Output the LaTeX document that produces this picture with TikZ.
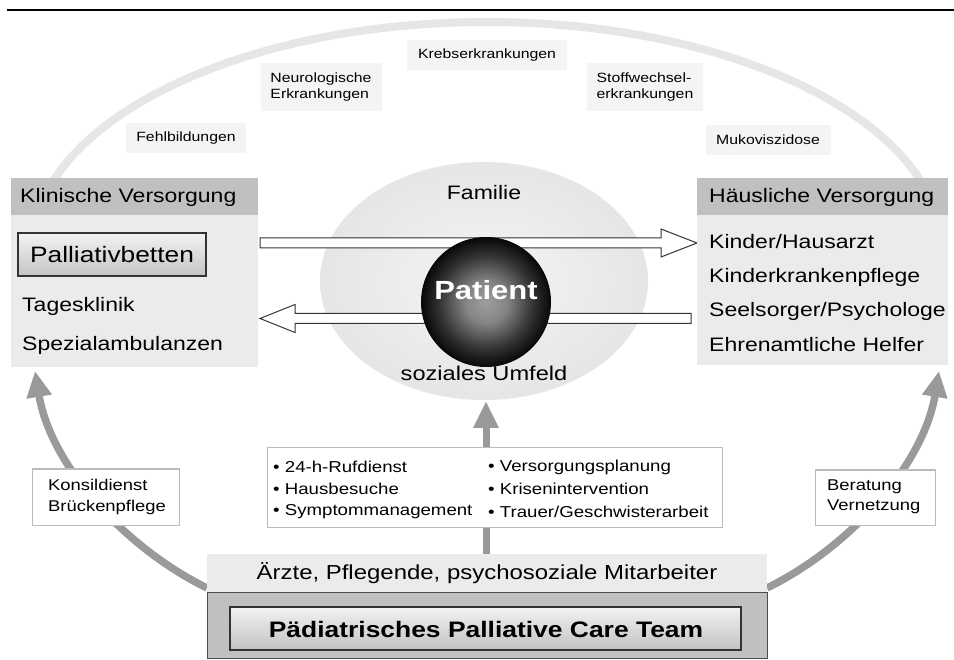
\documentclass[tikz,border=0pt]{standalone}
\usepackage{fontspec}
\setmainfont{Liberation Sans}[FakeStretch=1.18]
\usetikzlibrary{arrows.meta}
\definecolor{arcgray}{HTML}{E6E6E6}
\definecolor{labelbg}{HTML}{F4F4F4}
\definecolor{headgray}{HTML}{C0C0C0}
\definecolor{bodygray}{HTML}{EBEBEB}
\definecolor{arrowgray}{HTML}{9A9A9A}
\definecolor{thinborder}{HTML}{BBBBBB}
\definecolor{darkborder}{HTML}{333333}
\pgfdeclareradialshading{sphereshade}{\pgfpoint{0bp}{0bp}}{color(0bp)=(black!38); color(8bp)=(black!48); color(18bp)=(black!80); color(25bp)=(black!97); color(50bp)=(black)}
\tikzset{
  dlabel/.style={fill=labelbg, inner sep=0pt, align=left, font=\fontsize{13.4}{16.5}\selectfont},
  boxtext/.style={anchor=west, inner sep=0pt, font=\fontsize{19.5}{23}\selectfont},
  smalltext/.style={anchor=west, inner sep=0pt, align=left, font=\fontsize{15.6}{20.5}\selectfont},
  bullettext/.style={anchor=west, inner sep=0pt, font=\fontsize{15.8}{19}\selectfont},
  bigarrow/.style={draw=arrowgray, line width=7.5pt, -{Triangle[length=26pt,width=24pt]}},
  blockarrow/.style={draw=darkborder, fill=white, line width=1pt, line join=miter},
}
\begin{document}
\begin{tikzpicture}[x=1pt,y=-1pt]
\useasboundingbox (0,0) rectangle (954,660);
\fill[white] (0,0) rectangle (954,660);
% top rule
\draw[line width=2.5pt] (7,10) -- (954,10);
% big light arc
\begin{scope}
\clip (0,0) rectangle (954,200);
\draw[arcgray, line width=8pt] (487,250) ellipse [x radius=455pt, y radius=228pt];
\end{scope}
% disease labels
\node[dlabel, minimum width=120pt, minimum height=30pt] (fehl) at (186,138) {Fehlbildungen};
\node[dlabel, minimum width=121pt, minimum height=48pt] (neuro) at (321,87) {Neurologische\\Erkrankungen};
\node[dlabel, minimum width=160pt, minimum height=30pt] (krebs) at (487,55) {Krebserkrankungen};
\node[dlabel, minimum width=116pt, minimum height=48pt] (stoff) at (645,87) {Stoffwechsel-\\erkrankungen};
\node[dlabel, minimum width=125pt, minimum height=30pt] (muko) at (768,140) {Mukoviszidose};
% center ellipse
\shade[inner color=white!96!black, outer color=white!90!black] (484,281) ellipse [x radius=164pt, y radius=119pt];
% block arrows
\draw[blockarrow] (260,238) -- (661,238) -- (661,229) -- (697,243) -- (661,257) -- (661,248) -- (260,248) -- cycle;
\draw[blockarrow] (691,313.5) -- (295,313.5) -- (295,304.5) -- (260,318.5) -- (295,332.5) -- (295,323.5) -- (691,323.5) -- cycle;
% sphere
\shade[shading=sphereshade] (486,302) circle (65pt);
\node[inner sep=0pt, text=white, font=\fontsize{26.3}{30}\selectfont\bfseries] (patient) at (486,290) {Patient};
\node[inner sep=0pt, font=\fontsize{19.5}{23}\selectfont] (familie) at (484,193) {Familie};
\node[inner sep=0pt, font=\fontsize{20}{23}\selectfont] (umfeld) at (484,373) {soziales Umfeld};
% left box
\fill[headgray] (11,178) rectangle (258,215);
\fill[bodygray] (11,215) rectangle (258,367);
\node[boxtext] (klin) at (20,197) {Klinische Versorgung};
\shade[top color=white!95!black, bottom color=white!77!black, draw=darkborder, line width=1.2pt] (18,233) rectangle (206,276);
\node[inner sep=0pt, font=\fontsize{22.3}{26}\selectfont] (palli) at (112,255) {Palliativbetten};
\node[boxtext] (tages) at (22,306) {Tagesklinik};
\node[boxtext] (spez) at (22,345) {Spezialambulanzen};
% right box
\fill[headgray] (697,178) rectangle (948,215);
\fill[bodygray] (697,215) rectangle (948,365);
\node[boxtext] (haus) at (709,197) {Häusliche Versorgung};
\node[boxtext] (kinder) at (709,242) {Kinder/Hausarzt};
\node[boxtext] (pflege) at (709,277) {Kinderkrankenpflege};
\node[boxtext] (seel) at (709,311) {Seelsorger/Psychologe};
\node[boxtext] (ehren) at (709,345) {Ehrenamtliche Helfer};
% curved and vertical arrows
\coordinate (lstart) at (207,588);
\coordinate (ltip) at (35,371);
\coordinate (rstart) at (767,588);
\coordinate (rtip) at (939,371);
\coordinate (mstart) at (486,556);
\coordinate (mtip) at (486,401);
\draw[bigarrow] (lstart) .. controls (120,545) and (50,462) .. (ltip);
\draw[bigarrow] (rstart) .. controls (854,545) and (924,462) .. (rtip);
\draw[draw=arrowgray, line width=7pt, -{Triangle[length=27pt,width=24pt]}] (mstart) -- (mtip);
% bullet box
\draw[thinborder, fill=white, line width=1pt] (267,448) rectangle (722,527);
\node[bullettext] (b1) at (273,467) {• 24-h-Rufdienst};
\node[bullettext] (b2) at (273,489) {• Hausbesuche};
\node[bullettext] (b3) at (273,512) {• Symptommanagement};
\node[bullettext] (b4) at (488,467) {• Versorgungsplanung};
\node[bullettext] (b5) at (488,489) {• Krisenintervention};
\node[bullettext] (b6) at (488,512) {• Trauer/Geschwisterarbeit};
% side label boxes
\draw[thinborder, fill=white, line width=1pt] (32,469) rectangle (179,525);
\node[smalltext] (konsil) at (48,497) {Konsildienst\\Brückenpflege};
\draw[thinborder, fill=white, line width=1pt] (815,470) rectangle (935,525);
\node[smalltext] (berat) at (827,497) {Beratung\\Vernetzung};
% team
\fill[bodygray] (207,554) rectangle (767,592);
\node[inner sep=0pt, font=\fontsize{20.3}{24}\selectfont] (aerzte) at (487,573) {Ärzte, Pflegende, psychosoziale Mitarbeiter};
\draw[fill=headgray, draw=black!70, line width=1pt] (207,592) rectangle (767,658);
\shade[top color=white!95!black, bottom color=white!76!black, draw=darkborder, line width=1.2pt] (230,607) rectangle (741,650);
\node[inner sep=0pt, font=\fontsize{22.4}{26}\selectfont\bfseries] (team) at (486,629) {Pädiatrisches Palliative Care Team};
\end{tikzpicture}
\end{document}
